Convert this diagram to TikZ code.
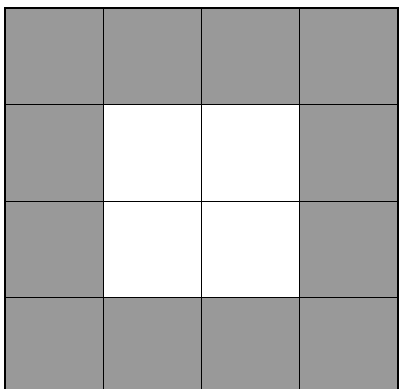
\documentclass[tikz,border=0pt]{standalone}
\begin{document}
\begin{tikzpicture}[
  x=1pt, y=1pt,
  every node/.style={
    draw,
    rectangle,
    line width=1pt,
    minimum width=98.25pt,
    minimum height=96.6pt,
    inner sep=0pt,
    outer sep=0pt
  }
]
  \useasboundingbox (0,0) rectangle (401,388);
  \clip (0,0) rectangle (401,388);
  \fill[white] (0,0) rectangle (401,388);

  % the 4x4 cells, the middle four are left white
  \foreach \i in {0,...,3}{
    \foreach \j in {0,...,3}{
      \pgfmathtruncatemacro\shade{(\i>0 && \i<3 && \j>0 && \j<3) ? 0 : 40}
      \node[fill=black!\shade] (c\i\j) at ({5+98.25*(\i+0.5)},{380-96.6*(\j+0.5)}) {};
    }
  }

  \draw[line width=2pt] (c00.north west) rectangle (c33.south east);
\end{tikzpicture}
\end{document}
